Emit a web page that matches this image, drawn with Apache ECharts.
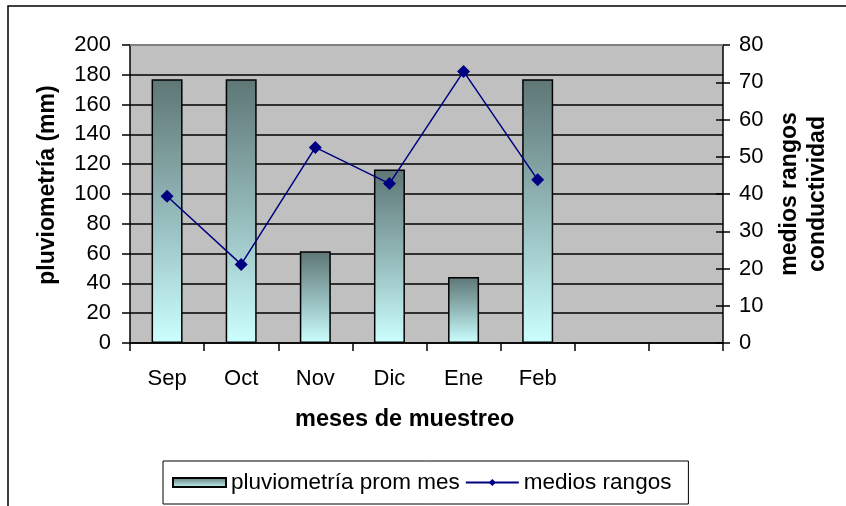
<!DOCTYPE html>
<html>
<head>
<meta charset="utf-8">
<script src="https://cdn.jsdelivr.net/npm/echarts@6/dist/echarts.min.js"></script>
<style>
  html, body { margin: 0; padding: 0; background: #fff; }
  #chart { width: 846px; height: 506px; }
</style>
</head>
<body>
<div id="chart"></div>
<script>
// Sampling months; the axis keeps two trailing empty slots
const months = ['Sep', 'Oct', 'Nov', 'Dic', 'Ene', 'Feb', '', ''];
// Mean monthly rainfall (mm), left axis
const rainfall = [177, 177, 61.5, 116.5, 44.3, 177];
// Mean conductivity ranks, right axis
const conductRanks = [39.4, 21.1, 52.5, 42.8, 72.9, 43.8];
// Axis tick settings
const leftTicks = { min: 0, max: 200, interval: 20 };
const rightTicks = { min: 0, max: 80, interval: 10 };

const FONT = '"Liberation Sans", Arial, sans-serif';
const chart = echarts.init(document.getElementById('chart'));

const barFill = new echarts.graphic.LinearGradient(0, 0, 0, 1, [
  { offset: 0, color: '#5e7676' },
  { offset: 0.5, color: '#93b8b8' },
  { offset: 1, color: '#ccffff' }
]);

chart.setOption({
  animation: false,
  textStyle: { fontFamily: FONT },
  graphic: [
    // outer chart frame
    { type: 'rect', shape: { x: 8, y: 6, width: 900, height: 600 },
      style: { fill: 'none', stroke: '#000', lineWidth: 1.5 }, silent: true, z: -1 },
    // x axis title
    { type: 'text', left: 425 - 130, top: 408,
      style: { text: 'meses de muestreo', font: 'bold 23.5px ' + FONT, fill: '#000', width: 260, align: 'center' } },
    // gray top edge of the plot area
    { type: 'line', shape: { x1: 130, y1: 45, x2: 723, y2: 45 },
      style: { stroke: '#808080', lineWidth: 2 }, z: 10 }
  ],
  grid: {
    left: 130, right: 123, top: 45, bottom: 163, show: true, backgroundColor: '#c0c0c0',
    borderWidth: 0, outerBoundsMode: 'none', containLabel: false
  },
  legend: {
    left: 163, top: 461,
    padding: [10, 17, 10, 9],
    itemGap: 5, itemWidth: 53, itemHeight: 9,
    borderColor: '#000', borderWidth: 1,
    textStyle: { fontSize: 22.5, color: '#000', fontFamily: FONT },
    data: [
      { name: 'pluviometría prom mes', icon: 'rect' },
      { name: 'medios rangos' }
    ]
  },
  xAxis: {
    type: 'category', data: months, boundaryGap: true,
    axisLine: { lineStyle: { color: '#000', width: 1.5 } },
    axisTick: { show: true, interval: 0, length: 8, lineStyle: { color: '#000', width: 1.5 } },
    axisLabel: { interval: 0, margin: 25, fontSize: 22, color: '#000', fontFamily: FONT }
  },
  yAxis: [
    {
      type: 'value', position: 'left',
      min: leftTicks.min, max: leftTicks.max, interval: leftTicks.interval,
      name: 'pluviometría (mm)', nameLocation: 'middle', nameGap: 71, nameRotate: 90,
      nameTextStyle: { fontSize: 23, fontWeight: 'bold', color: '#000', fontFamily: FONT,
        padding: [0, 0, 0, 18] },
      axisLine: { show: true, lineStyle: { color: '#000', width: 1.5 } },
      axisTick: { show: true, length: 8, lineStyle: { color: '#000', width: 1.5 } },
      axisLabel: { margin: 19, fontSize: 22, color: '#000', fontFamily: FONT },
      splitLine: { show: true, lineStyle: { color: '#000', width: 1.5 } }
    },
    {
      type: 'value', position: 'right',
      min: rightTicks.min, max: rightTicks.max, interval: rightTicks.interval,
      name: 'medios rangos\nconductividad', nameLocation: 'middle', nameGap: 53, nameRotate: 90,
      nameTextStyle: { fontSize: 23, fontWeight: 'bold', color: '#000', lineHeight: 28, fontFamily: FONT },
      axisLine: { show: true, lineStyle: { color: '#000', width: 1.5 } },
      axisTick: { show: true, length: 7, lineStyle: { color: '#000', width: 1.5 } },
      axisLabel: { margin: 16, fontSize: 22, color: '#000', fontFamily: FONT },
      splitLine: { show: false }
    },
    {
      // inner half of the right-hand tick marks
      type: 'value', position: 'right',
      min: rightTicks.min, max: rightTicks.max, interval: rightTicks.interval,
      axisLine: { show: false },
      axisTick: { show: true, inside: true, length: 7, lineStyle: { color: '#000', width: 1.5 } },
      axisLabel: { show: false }, splitLine: { show: false }
    }
  ],
  series: [
    {
      name: 'pluviometría prom mes', type: 'bar',
      yAxisIndex: 0,
      data: rainfall, barWidth: 31,
      itemStyle: { color: barFill, borderColor: '#000', borderWidth: 1.5 }
    },
    {
      name: 'medios rangos', type: 'line',
      yAxisIndex: 1,
      data: conductRanks,
      symbol: 'diamond', symbolSize: 13,
      lineStyle: { color: '#000080', width: 1.5 },
      itemStyle: { color: '#000080' }
    }
  ]
});
</script>
</body>
</html>
